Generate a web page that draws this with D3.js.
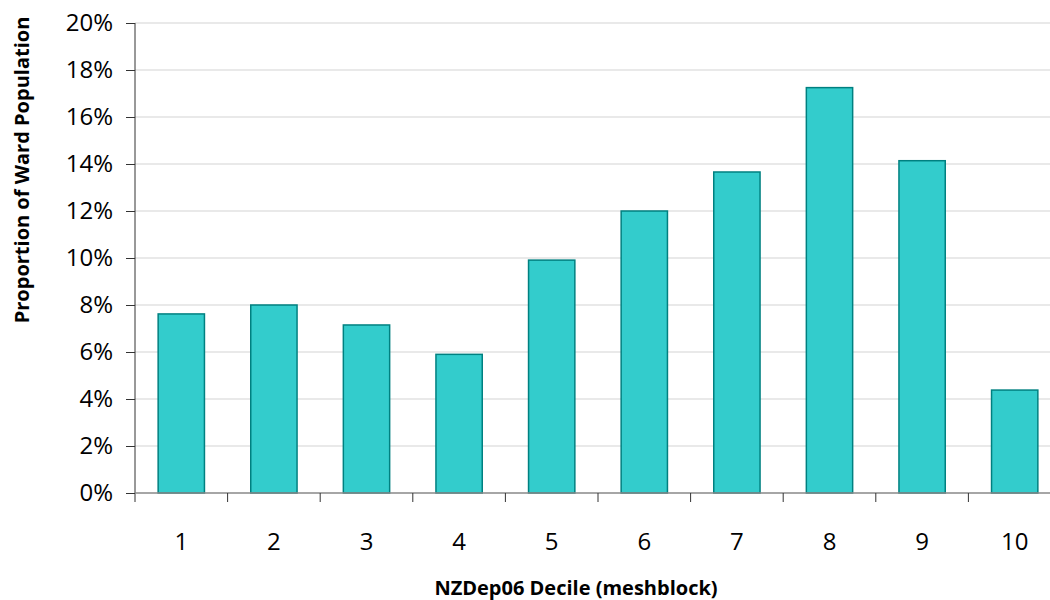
<!DOCTYPE html>
<html><head><meta charset="utf-8">
<script src="https://cdn.jsdelivr.net/npm/d3@7"></script>
<style>body{margin:0;background:#fff}svg{display:block}</style>
</head><body>
<svg id="c" width="1050" height="600"></svg>
<script>
const categories = ["1","2","3","4","5","6","7","8","9","10"];
const values = [7.62, 8.0, 7.15, 5.9, 9.91, 12.0, 13.66, 17.25, 14.14, 4.38];
const yTicks = [0,2,4,6,8,10,12,14,16,18,20];

(function(){
const svg = d3.select("#c");
const font = "'Open Sans', sans-serif";
const pL = 135, pR = 1061, pT = 23, pB = 493;

const x = d3.scaleBand().domain(categories).range([pL, pR]).paddingInner(0.5).paddingOuter(0.25);
const y = d3.scaleLinear().domain([0,20]).range([pB, pT]);

svg.append("g").selectAll("line").data(yTicks.filter(d=>d>0)).join("line")
  .attr("x1", pL).attr("x2", 1050).attr("y1", d=>y(d)).attr("y2", d=>y(d))
  .attr("stroke", "#d4d4d4").attr("stroke-width", 1.2);

svg.append("g").selectAll("rect").data(values).join("rect")
  .attr("x", (d,i)=>x(categories[i])).attr("width", x.bandwidth())
  .attr("y", d=>y(d)).attr("height", d=>pB - y(d))
  .attr("fill", "#33CCCC").attr("stroke", "#008080").attr("stroke-width", 1.5);

const ya = svg.append("g").attr("transform", `translate(${pL},0)`)
  .call(d3.axisLeft(y).tickValues(yTicks).tickFormat(d=>d+"%").tickSize(9).tickPadding(13));
ya.select(".domain").attr("stroke", "#333").attr("d", `M0,${pT}V${pB+9}`);
ya.selectAll(".tick line").attr("stroke", "#333");
ya.selectAll("text").attr("font-family", font).attr("font-size", 24).attr("fill", "#000");

svg.append("line").attr("x1", pL).attr("x2", 1050).attr("y1", pB).attr("y2", pB)
  .attr("stroke", "#888").attr("stroke-width", 1.5);
const bounds = categories.slice(1).map(c => x(c) - x.step()*x.paddingInner()/2);
svg.append("g").selectAll("line").data(bounds).join("line")
  .attr("x1", d=>d).attr("x2", d=>d).attr("y1", pB).attr("y2", pB+9)
  .attr("stroke", "#333");
svg.append("g").selectAll("text").data(categories).join("text")
  .attr("x", d=>x(d)+x.bandwidth()/2).attr("y", 550)
  .attr("text-anchor", "middle").attr("font-family", font).attr("font-size", 24).text(d=>d);

svg.append("text").attr("x", 576).attr("y", 595).attr("text-anchor", "middle")
  .attr("font-family", font).attr("font-weight", "bold").attr("font-size", 20)
  .text("NZDep06 Decile (meshblock)");
svg.append("text").attr("transform", "translate(29,170) rotate(-90)").attr("text-anchor", "middle")
  .attr("font-family", font).attr("font-weight", "bold").attr("font-size", 20)
  .text("Proportion of Ward Population");
})();
</script>
</body></html>
